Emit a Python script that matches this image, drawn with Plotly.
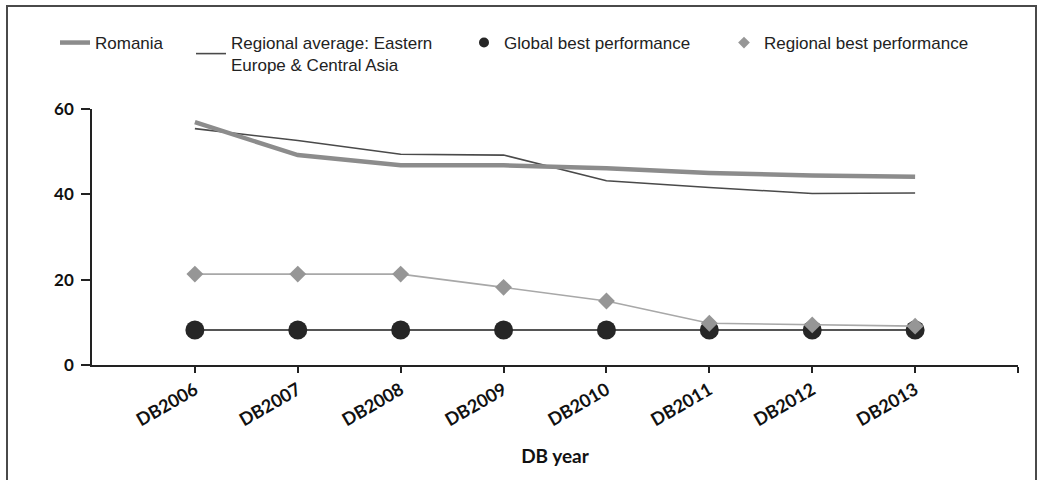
import plotly.graph_objects as go

years = ["DB2006", "DB2007", "DB2008", "DB2009", "DB2010", "DB2011", "DB2012", "DB2013"]
romania = [56.9, 49.2, 46.8, 46.8, 46.1, 45.0, 44.4, 44.1]
regional_avg = [55.4, 52.6, 49.4, 49.2, 43.2, 41.6, 40.2, 40.3]
global_best = [8.2, 8.2, 8.2, 8.2, 8.2, 8.2, 8.2, 8.2]
regional_best = [21.3, 21.3, 21.3, 18.2, 15.0, 9.8, 9.4, 9.1]
y_ticks = [0, 20, 40, 60]

xpos = list(range(len(years)))

# plot-area geometry in pixels (for legend placement in paper units)
L, R, T, B = 92, 1018, 109, 365
W, H = R - L, B - T


def px(x):
    return (x - L) / W


def py(y):
    return (B - y) / H


fig = go.Figure()

fig.add_trace(go.Scatter(
    x=xpos, y=regional_avg, mode="lines", name="Regional average: Eastern<br>Europe & Central Asia",
    line=dict(color="#4a4a4a", width=1.6), legend="legend2"))
fig.add_trace(go.Scatter(
    x=xpos, y=romania, mode="lines", name="Romania",
    line=dict(color="#8c8c8c", width=4.5), legend="legend"))
fig.add_trace(go.Scatter(
    x=xpos, y=global_best, mode="lines+markers", name="Global best performance",
    line=dict(color="#555555", width=2.2),
    marker=dict(symbol="circle", size=19, color="#262626"), showlegend=False))
fig.add_trace(go.Scatter(
    x=[None], y=[None], mode="markers", name="Global best performance",
    marker=dict(symbol="circle", size=10, color="#262626"), legend="legend3"))
fig.add_trace(go.Scatter(
    x=xpos, y=regional_best, mode="lines+markers", name="Regional best performance",
    line=dict(color="#a8a8a8", width=1.6),
    marker=dict(symbol="diamond", size=13, color="#969696"), showlegend=False))
fig.add_trace(go.Scatter(
    x=[None], y=[None], mode="markers", name="Regional best performance",
    marker=dict(symbol="diamond", size=9, color="#969696"), legend="legend4"))

legfont = dict(family="Liberation Sans, Arial, sans-serif", size=17, color="#222222")
legcommon = dict(font=legfont, bgcolor="rgba(0,0,0,0)", xanchor="left", yanchor="top",
                 orientation="h", borderwidth=0, itemclick=False)

LEG_Y = 25
fig.update_layout(
    width=1043, height=480,
    margin=dict(l=L, r=1043 - R, t=T, b=480 - B),
    paper_bgcolor="white", plot_bgcolor="white",
    legend=dict(x=px(55), y=py(LEG_Y), **legcommon),
    legend2=dict(x=px(191), y=py(LEG_Y), **legcommon),
    legend3=dict(x=px(464), y=py(LEG_Y), **legcommon),
    legend4=dict(x=px(724), y=py(LEG_Y), **legcommon),
    xaxis=dict(
        range=[-1, len(years)], tickmode="array",
        tickvals=list(range(len(years) + 1)), ticktext=years + [""],
        tickangle=-30, ticks="outside", ticklen=6, tickcolor="#222222", tickwidth=1.5,
        showline=True, linecolor="#222222", linewidth=1.5, showgrid=False, zeroline=False,
        tickfont=dict(family="Lato, sans-serif", size=18, color="#111111", weight="bold"),
        title=dict(text="<b>DB year</b>", font=dict(family="Lato, sans-serif", size=19, color="#111111"),
                   standoff=20),
    ),
    yaxis=dict(
        range=[0, 60], tickmode="array", tickvals=y_ticks,
        ticks="outside", ticklen=9, tickcolor="#222222", tickwidth=1.5,
        ticklabelstandoff=4,
        showline=True, linecolor="#222222", linewidth=1.5, showgrid=False, zeroline=False,
        tickfont=dict(family="Lato, sans-serif", size=17, color="#111111", weight="bold"),
    ),
    shapes=[dict(type="rect", xref="paper", yref="paper",
                 x0=px(7), x1=px(1036), y0=py(495), y1=py(6),
                 line=dict(color="#4a4a4a", width=2), fillcolor="rgba(0,0,0,0)", layer="below")],
)

fig.write_html("out.html", config={"displayModeBar": False},
               post_script="document.body.style.margin='0px';")
